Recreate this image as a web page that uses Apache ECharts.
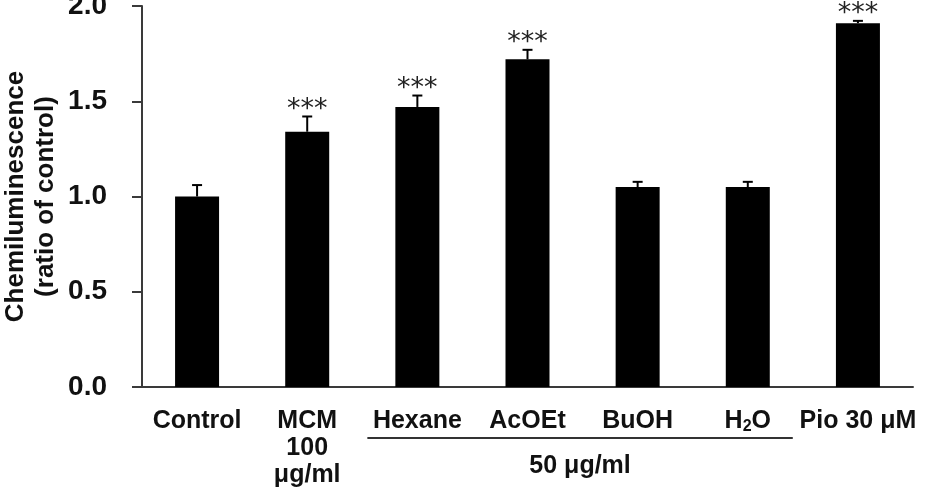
<!DOCTYPE html>
<html>
<head>
<meta charset="utf-8">
<script src="https://cdn.jsdelivr.net/npm/echarts@6/dist/echarts.min.js"></script>
<style>
  html, body { margin: 0; padding: 0; background: #fff; }
  #chart { width: 928px; height: 488px; }
</style>
</head>
<body>
<div id="chart"></div>
<script>
// data
const categories = ['Control', 'MCM', 'Hexane', 'AcOEt', 'BuOH', 'H2O', 'Pio 30 μM']
const means = [1.00, 1.34, 1.47, 1.72, 1.05, 1.05, 1.91]
const errors = [0.06, 0.08, 0.06, 0.05, 0.027, 0.027, 0.012]
const stars = ['', '***', '***', '***', '', '', '***']
const yTicks = [0, 0.5, 1.0, 1.5, 2.0]
const groupLabel = '50 μg/ml'

const font = 'Liberation Sans, Arial, sans-serif'
const axisColor = '#3a3a3a'

const chart = echarts.init(document.getElementById('chart'))

const option = {
    animation: false,
    grid: { left: 142, right: 15, top: 6, bottom: 101, containLabel: false, outerBoundsMode: 'none' },
    xAxis: {
        type: 'category',
        data: categories,
        axisLine: { lineStyle: { color: axisColor, width: 2 } },
        axisTick: { show: false },
        axisLabel: {
            interval: 0,
            hideOverlap: false,
            margin: 21,
            color: '#111',
            fontFamily: font,
            fontWeight: 'bold',
            fontSize: 25,
            lineHeight: 27,
            formatter(v) {
                if (v === 'MCM') return 'MCM\n100\nμg/ml'
                if (v === 'H2O') return '{n|H}{s|2}{n|O}'
                return v
            },
            rich: {
                n: { fontFamily: font, fontWeight: 'bold', fontSize: 25, color: '#111' },
                s: { fontFamily: font, fontWeight: 'bold', fontSize: 16, color: '#111', verticalAlign: 'bottom', padding: [11, 0, 0, 0] }
            }
        }
    },
    yAxis: {
        type: 'value',
        min: yTicks[0],
        max: yTicks[yTicks.length - 1],
        interval: 0.5,
        splitLine: { show: false },
        axisLine: { show: true, lineStyle: { color: axisColor, width: 2 } },
        axisTick: { show: true, length: 10, lineStyle: { color: axisColor, width: 2 } },
        axisLabel: {
            margin: 35,
            color: '#111',
            fontFamily: font,
            fontWeight: 'bold',
            fontSize: 28,
            formatter: v => v.toFixed(1)
        },
        name: 'Chemiluminescence\n(ratio of control)',
        nameLocation: 'middle',
        nameRotate: 90,
        nameGap: 81,
        nameMoveOverlap: false,
        nameTextStyle: {
            color: '#111',
            fontFamily: font,
            fontWeight: 'bold',
            fontSize: 26,
            lineHeight: 30
        }
    },
    series: [
        {
            type: 'bar',
            data: means,
            barWidth: 44,
            itemStyle: { color: '#000' },
            z: 2
        },
        {
            type: 'custom',
            data: means.map((m, i) => [i, m, errors[i]]),
            z: 3,
            renderItem(params, api) {
                const i = api.value(0)
                const base = api.coord([i, api.value(1)])
                const top = api.coord([i, api.value(1) + api.value(2)])
                const x = base[0]
                const children = [
                    { type: 'line', shape: { x1: x, y1: base[1], x2: x, y2: top[1] }, style: { stroke: '#000', lineWidth: 2 } },
                    { type: 'line', shape: { x1: x - 5, y1: top[1], x2: x + 5, y2: top[1] }, style: { stroke: '#000', lineWidth: 2 } }
                ]
                if (stars[i]) {
                    children.push({
                        type: 'text',
                        x: x,
                        y: top[1] - 7,
                        style: {
                            text: stars[i],
                            fontFamily: 'DejaVu Sans, sans-serif',
                            fontSize: 27,
                            fill: '#222',
                            align: 'center',
                            verticalAlign: 'middle'
                        }
                    })
                }
                return { type: 'group', children }
            }
        }
    ]
}

chart.setOption(option)

// bracket line under Hexane..H2O and its common dose label
const pHex = chart.convertToPixel({ xAxisIndex: 0 }, 'Hexane')
const pH2O = chart.convertToPixel({ xAxisIndex: 0 }, 'H2O')
chart.setOption({
    graphic: [
        {
            type: 'line',
            shape: { x1: pHex - 50, y1: 438, x2: pH2O + 45, y2: 438 },
            style: { stroke: '#333', lineWidth: 2 }
        },
        {
            type: 'text',
            x: (pHex - 50 + pH2O + 45) / 2,
            y: 466,
            style: {
                text: groupLabel,
                fontFamily: font,
                fontWeight: 'bold',
                fontSize: 25,
                fill: '#111',
                align: 'center',
                verticalAlign: 'middle'
            }
        }
    ]
})
</script>
</body>
</html>
